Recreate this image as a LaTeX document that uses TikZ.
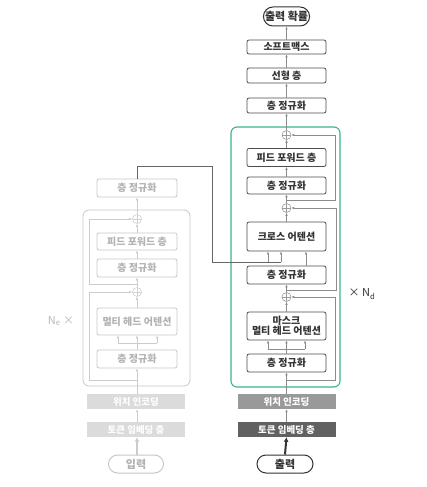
\documentclass[tikz,border=0pt]{standalone}
\usepackage{fontspec}
\setmainfont{Noto Sans CJK KR}
\usetikzlibrary{arrows.meta,shapes.misc}
\definecolor{stackgreen}{RGB}{60,176,148}
\tikzset{
decbox/.style={rectangle, rounded corners=2pt, draw=black!70, fill=white, line width=0.8pt, inner sep=0pt, minimum width=79pt, font=\bfseries\fontsize{10}{11}\selectfont, text=black!80},
encbox/.style={decbox, draw=black!22, text=black!30, minimum width=80pt},
pillnode/.style={rounded rectangle, draw=black!80, fill=white, line width=1pt, inner sep=0pt, minimum height=19pt, font=\bfseries\fontsize{11}{12}\selectfont, text=black!80},
encpill/.style={pillnode, draw=black!22, text=black!30},
posbox/.style={rectangle, draw=none, fill=black!40, inner sep=0pt, minimum width=98pt, minimum height=15pt, font=\bfseries\fontsize{9.5}{10}\selectfont, text=white},
tokbox/.style={posbox, fill=black!62},
encpos/.style={posbox, fill=black!14},
addnode/.style={circle, draw=black!40, fill=white, line width=0.6pt, inner sep=0pt, minimum size=9pt, path picture={\draw[black!40, line width=0.6pt] (path picture bounding box.north)--(path picture bounding box.south) (path picture bounding box.west)--(path picture bounding box.east);}},
encadd/.style={addnode, draw=black!18, path picture={\draw[black!18, line width=0.6pt] (path picture bounding box.north)--(path picture bounding box.south) (path picture bounding box.west)--(path picture bounding box.east);}},
decline/.style={draw=black!45, line width=0.6pt},
decarrow/.style={decline, -{Latex[length=3pt,width=2.6pt]}},
encline/.style={draw=black!20, line width=0.6pt},
encarrow/.style={encline, -{Latex[length=3pt,width=2.6pt]}},
crossline/.style={draw=black!60, line width=0.9pt},
}

\begin{document}
\begin{tikzpicture}[x=1pt,y=-1pt]
        \useasboundingbox (0,0) rectangle (426,487);

        % decoder stack
        \draw[stackgreen, line width=1.1pt, rounded corners=6pt] (231,127) rectangle (340,387);
        \node[pillnode] at (286.5,16.5) (dprob) {출력 확률};
        \node[decbox, minimum height=14pt] at (286.5,47) (dsoft) {소프트맥스};
        \node[decbox, minimum height=15pt] at (286.5,75.5) (dlin) {선형 층};
        \node[decbox, minimum height=15pt] at (286.5,105.5) (dnorm1) {층 정규화};
        \node[addnode] at (286.5,135) (dadd1) {};
        \node[decbox, minimum height=18pt] at (286.5,157.5) (dff) {피드 포워드 층};
        \node[decbox, minimum height=17pt] at (286.5,185.5) (dnorm2) {층 정규화};
        \node[addnode] at (286.5,208) (dadd2) {};
        \node[decbox, minimum height=29pt] at (286.5,236.5) (dcross) {크로스 어텐션};
        \node[decbox, minimum height=18pt] at (286.5,275) (dnorm3) {층 정규화};
        \node[addnode] at (286.5,297) (dadd3) {};
        \node[decbox, minimum height=28pt, align=center] at (286.5,326) (dmask) {마스크\\[-1pt]멀티 헤드 어텐션};
        \node[decbox, minimum height=18pt] at (286.5,363) (dnorm4) {층 정규화};
        \node[posbox] at (286.5,401.5) (dpos) {위치 인코딩};
        \node[tokbox] at (286.5,429.5) (dtok) {토큰 임베딩 층};
        \node[pillnode, minimum width=56pt, minimum height=18pt] at (285,464) (dout) {출력};
        \node[font=\fontsize{11}{12}\selectfont, text=black!80] at (362,294) (ndlabel) {× N\textsubscript{d}};

        \coordinate (db1) at (286.5,200);
        \coordinate (db2) at (286.5,290);
        \coordinate (db3) at (286.5,380);
        \coordinate (dsplit) at (286.5,349);
        \coordinate (dq) at (306,262);

        \draw[decarrow] (dsoft.north)--(dprob.south);
        \draw[decarrow] (dlin.north)--(dsoft.south);
        \draw[decarrow] (dnorm1.north)--(dlin.south);
        \draw[decarrow] (dadd1.north)--(dnorm1.south);
        \draw[decarrow] (dff.north)--(dadd1.south);
        \draw[decarrow] (dnorm2.north)--(dff.south);
        \draw[decarrow] (dadd2.north)--(dnorm2.south);
        \draw[decarrow] (dcross.north)--(dadd2.south);
        \draw[decarrow] (dnorm3.north -| dq)--(dcross.south -| dq);
        \draw[decarrow] (dadd3.north)--(dnorm3.south);
        \draw[decarrow] (dmask.north)--(dadd3.south);
        \draw[decline] (dnorm4.north)--(dsplit);
        \draw[decline] (268,349)--(305,349);
        \foreach \x in {268,286.5,305}
            \draw[decarrow] (\x,349)--(\x,349 |- dmask.south);
        \draw[decarrow] (dpos.north)--(dnorm4.south);
        \draw[decarrow] (dtok.north)--(dpos.south);
        \draw[black!80, line width=2pt, -{Latex[length=4.5pt,width=5pt]}] (dout.north)--(dtok.south);
        \draw[decarrow] (db1)--++(48.5,0) |- (dadd1.east);
        \draw[decarrow] (db2)--++(50,0) |- (dadd2.east);
        \draw[decarrow] (db3)--++(48.5,0) |- (dadd3.east);

        % encoder stack
        \draw[black!22, line width=0.8pt, rounded corners=6pt] (83,210) rectangle (190,386);
        \node[encbox, minimum height=18pt] at (137,188) (enorm1) {층 정규화};
        \node[encadd] at (137,219) (eadd1) {};
        \node[encbox, minimum height=17pt] at (137,241.5) (eff) {피드 포워드 층};
        \node[encbox, minimum height=18pt] at (137,268) (enorm2) {층 정규화};
        \node[encadd] at (137,292) (eadd2) {};
        \node[encbox, minimum height=27pt] at (137,321.5) (emha) {멀티 헤드 어텐션};
        \node[encbox, minimum height=18pt] at (137,359) (enorm3) {층 정규화};
        \node[encpos] at (136,401.5) (epos) {위치 인코딩};
        \node[encpos] at (136,429.5) (etok) {토큰 임베딩 층};
        \node[encpill, minimum width=55pt, minimum height=18pt] at (136,464) (ein) {입력};
        \node[font=\fontsize{11}{12}\selectfont, text=black!28] at (61,321) (nelabel) {N\textsubscript{e} ×};

        \coordinate (eb1) at (137,284);
        \coordinate (eb2) at (137,380);
        \coordinate (esplit) at (137,343);

        \draw[encarrow] (eadd1.north)--(enorm1.south);
        \draw[encarrow] (eff.north)--(eadd1.south);
        \draw[encarrow] (enorm2.north)--(eff.south);
        \draw[encarrow] (eadd2.north)--(enorm2.south);
        \draw[encarrow] (emha.north)--(eadd2.south);
        \draw[encline] (enorm3.north)--(esplit);
        \draw[encline] (118,343)--(157,343);
        \foreach \x in {118,137,157}
            \draw[encarrow] (\x,343)--(\x,343 |- emha.south);
        \draw[encarrow] (137,394)--(enorm3.south);
        \draw[encarrow] (etok.north -| 137,0)--(epos.south -| 137,0);
        \draw[black!20, line width=2pt, -{Latex[length=4.5pt,width=5pt]}] (ein.north -| 137,0)--(etok.south -| 137,0);
        \draw[encarrow] (eb1)--++(-48,0) |- (eadd1.west);
        \draw[encarrow] (eb2)--++(-48,0) |- (eadd2.west);

        % encoder output into cross attention
        \coordinate (ekv) at (212,262);
        \coordinate (kv1) at (268,262);
        \coordinate (kv2) at (281,262);
        \draw[crossline] (enorm1.north)--++(0,-12) -| (ekv)--(kv2);
        \draw[decarrow] (kv1)--(kv1 |- dcross.south);
        \draw[decarrow] (kv2)--(kv2 |- dcross.south);
    \end{tikzpicture}
\end{document}
